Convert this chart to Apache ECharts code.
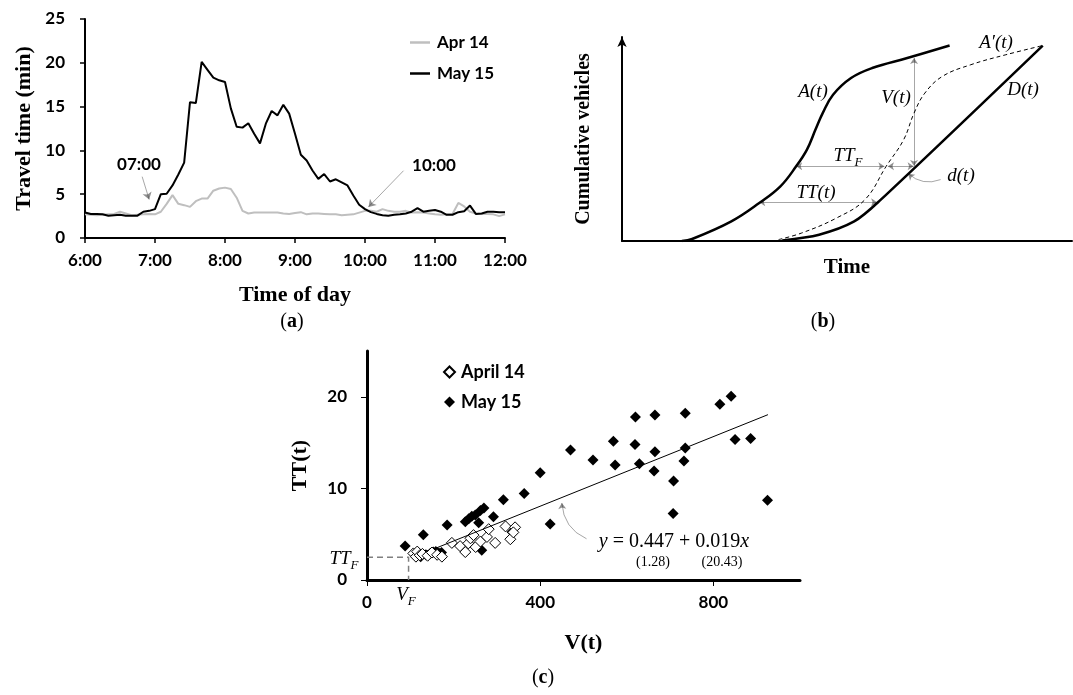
<!DOCTYPE html>
<html>
<head>
<meta charset="utf-8">
<script src="https://cdn.jsdelivr.net/npm/echarts@6/dist/echarts.min.js"></script>
<style>
html, body { margin: 0; padding: 0; background: #fff; }
#main { width: 1073px; height: 695px; }
</style>
</head>
<body>
<div id="main"></div>
<script>
// (a) travel time, 5-minute samples from 6:00 to 12:00
var apr14 = [2.7, 2.65, 2.6, 2.65, 2.7, 2.75, 3.0, 2.8, 2.6, 2.65, 2.7, 2.75,
    2.7, 3.0, 3.9, 4.9, 3.9, 3.75, 3.55, 4.2, 4.5, 4.5, 5.4, 5.65, 5.75, 5.6, 4.6, 3.1,
    2.8, 2.9, 2.9, 2.9, 2.9, 2.9, 2.8, 2.75, 2.85, 2.95, 2.7, 2.8, 2.8, 2.75, 2.7, 2.7,
    2.6, 2.65, 2.7, 2.9, 3.1, 3.1, 3.0, 3.3, 3.1, 3.0, 3.0, 3.1, 2.9, 2.95, 2.9, 2.8,
    2.7, 2.65, 2.7, 2.75, 4.0, 3.6, 3.0, 2.8, 2.75, 2.75, 2.7, 2.5, 2.7];
var may15 = [2.9, 2.75, 2.75, 2.7, 2.55, 2.6, 2.65, 2.55, 2.55, 2.55, 3.0, 3.1,
    3.3, 5.0, 5.05, 6.0, 7.25, 8.6, 15.5, 15.4, 20.1, 19.2, 18.3, 18.0, 17.8, 14.8, 12.7, 12.6,
    13.1, 11.9, 10.8, 13.05, 14.5, 14.0, 15.2, 14.2, 11.9, 9.5, 8.85, 7.7, 6.75, 7.3, 6.45, 6.7,
    6.35, 6.0, 4.85, 3.8, 3.3, 2.95, 2.75, 2.6, 2.55, 2.65, 2.7, 2.8, 3.0, 3.4, 3.0, 3.1,
    3.2, 3.0, 2.65, 2.65, 2.95, 3.05, 3.7, 2.75, 2.8, 3.0, 3.0, 2.95, 2.95];
var timeMinutes = [];
for (var m = 360; m <= 720; m += 5) timeMinutes.push(m);
// arrows: [start, end] in (minutes, value)
var arrowsA = [[[409, 7.0], [415, 4.4]], [[633, 7.68], [603, 3.55]]];

// (b) schematic curves, time 0-100, vehicles 0-100
var curveA = [[13.3, 0], [15.6, 1.0], [24.3, 9.6], [30.5, 18.6], [35.2, 26.8], [38.7, 36.6],
    [41.1, 44.8], [43.0, 54.6], [44.6, 62.7], [46.9, 71.7], [50.9, 79.9], [55.6, 84.8],
    [63.4, 89.7], [72.8, 95.8]];
var curveA2 = [[34.8, 0.7], [39.9, 3.9], [47.7, 11.3], [54.0, 20.3], [58.7, 36.6], [62.6, 49.7],
    [64.9, 62.7], [67.3, 72.5], [71.2, 80.7], [77.5, 86.4], [85.3, 91.3], [93.5, 95.8]];
var curveD = [[35.6, 0.3], [43.8, 3.1], [51.6, 9.6], [57.1, 19.4], [93.5, 95.8]];
var arrowsB = [[[38.7, 36.6], [58.3, 36.6]], [[59.1, 36.6], [64.8, 36.6]],
    [[64.9, 89.7], [64.9, 36.8]], [[30.5, 19.0], [56.7, 19.0]]];
var leaderB = [[70.8, 30.1], [63.6, 33.0]];

// (c) TT(t) vs V(t)
var april14 = [[107, 2.9], [113, 2.55], [116, 3.1], [122, 2.7], [128, 2.85], [140, 2.65],
    [150, 3.0], [162, 2.75], [173, 2.55], [196, 4.05], [215, 3.7], [227, 3.05], [234, 4.0],
    [239, 4.55], [246, 4.9], [251, 3.6], [262, 4.2], [277, 4.7], [281, 5.55], [296, 4.05],
    [320, 5.85], [331, 4.45], [342, 5.75], [338, 5.2]];
var may15c = [[88, 3.7], [112, 2.75], [118, 2.95], [124, 2.55], [130, 4.95], [136, 2.75],
    [146, 2.9], [153, 3.05], [159, 3.1], [166, 2.95], [172, 3.0], [185, 6.0], [227, 6.35],
    [235, 6.7], [242, 6.95], [250, 7.1], [258, 6.25], [262, 7.6], [270, 7.85], [265, 3.25],
    [292, 6.9], [315, 8.75], [335, 5.25], [363, 9.45], [400, 11.7], [423, 6.1], [470, 14.2],
    [522, 13.1], [569, 15.15], [573, 12.55], [620, 17.8], [619, 14.8], [629, 12.7], [665, 18.0],
    [665, 14.0], [663, 11.9], [708, 10.8], [707, 7.25], [735, 18.2], [735, 14.4], [732, 13.0],
    [815, 19.2], [841, 20.05], [850, 15.35], [886, 15.45], [925, 8.7]];
var fitLine = [[155, 3.4], [926, 18.05]];
var freeFlow = [[0, 2.47], [96, 2.47], [96, 0]];
var leaderC = [[507, 4.5], [450, 8.4]];
var ticksCx = [0, 400, 800];
var ticksCy = [0, 10, 20];

var SANS = 'Lato, "Open Sans", sans-serif';
var SERIF = '"Liberation Serif", "Times New Roman", serif';

var zip = function (xs, ys) {
    return ys.map(function (v, i) { return [xs[i], v]; });
};
var axisTitle = function (size) {
    return { fontFamily: SERIF, fontWeight: 'bold', fontSize: size, color: '#000' };
};
var tickLabel = function (size, margin) {
    return { fontFamily: SANS, fontWeight: 'bold', fontSize: size, color: '#000', margin: margin };
};
var blackLine = function (w) {
    return { show: true, onZero: false, lineStyle: { color: '#000', width: w } };
};
var text = function (x, y, str, font, rich) {
    var t = { type: 'text', x: x, y: y, z: 100,
        style: { text: str, font: font, fill: '#000', align: 'center', verticalAlign: 'middle' } };
    if (rich) t.style.rich = rich;
    return t;
};
var mathRich = {
    i: { font: 'italic 19px ' + SERIF, lineHeight: 26, verticalAlign: 'middle' },
    s: { font: 'italic 13px ' + SERIF, lineHeight: 12, verticalAlign: 'bottom' }
};
var panelRich = {
    p: { font: '20px ' + SERIF },
    b: { font: 'bold 20px ' + SERIF }
};

var chart = echarts.init(document.getElementById('main'));
var option = {
    animation: false,
    backgroundColor: '#fff',
    grid: [
        { left: 85, top: 19, width: 420, height: 219 },
        { left: 622, top: 37, width: 450, height: 204 },
        { left: 367, top: 351, width: 433, height: 229 }
    ],
    xAxis: [
        { type: 'value', gridIndex: 0, min: 360, max: 720, interval: 60,
          axisLine: blackLine(2),
          axisTick: { show: true, length: 5, lineStyle: { color: '#000', width: 1.5 } },
          axisLabel: Object.assign(tickLabel(17, 14), {
              formatter: function (v) { return Math.floor(v / 60) + ':00'; } }),
          splitLine: { show: false },
          name: 'Time of day', nameLocation: 'middle', nameGap: 46, nameTextStyle: axisTitle(22) },
        { type: 'value', gridIndex: 1, min: 0, max: 100,
          axisLine: blackLine(2), axisTick: { show: false }, axisLabel: { show: false },
          splitLine: { show: false },
          name: 'Time', nameLocation: 'middle', nameGap: 16, nameTextStyle: axisTitle(21) },
        { type: 'value', gridIndex: 2, min: 0, max: 1000,
          axisLine: blackLine(3),
          axisTick: { show: true, length: 6, customValues: ticksCx, lineStyle: { color: '#000', width: 1 } },
          axisLabel: Object.assign(tickLabel(17, 14), { customValues: ticksCx }),
          splitLine: { show: false },
          name: 'V(t)', nameLocation: 'middle', nameGap: 52, nameTextStyle: axisTitle(22) }
    ],
    yAxis: [
        { type: 'value', gridIndex: 0, min: 0, max: 25, interval: 5,
          axisLine: blackLine(2),
          axisTick: { show: true, length: 5, lineStyle: { color: '#000', width: 1.5 } },
          axisLabel: tickLabel(17, 20),
          splitLine: { show: false },
          name: 'Travel time (min)', nameLocation: 'middle', nameGap: 50, nameTextStyle: axisTitle(22) },
        { type: 'value', gridIndex: 1, min: 0, max: 100,
          axisLine: { show: true, onZero: false, symbol: ['none', 'arrow'], symbolSize: [7, 10],
                      lineStyle: { color: '#000', width: 2 } },
          axisTick: { show: false }, axisLabel: { show: false }, splitLine: { show: false },
          name: 'Cumulative vehicles', nameLocation: 'middle', nameGap: 28, nameTextStyle: axisTitle(20) },
        { type: 'value', gridIndex: 2, min: 0, max: 25,
          axisLine: blackLine(3),
          axisTick: { show: true, length: 6, customValues: ticksCy, lineStyle: { color: '#000', width: 1 } },
          axisLabel: Object.assign(tickLabel(17, 20), { customValues: ticksCy }),
          splitLine: { show: false },
          name: 'TT(t)', nameLocation: 'middle', nameGap: 56, nameTextStyle: axisTitle(22) }
    ],
    legend: [
        { data: [{ name: 'Apr 14', icon: 'rect' }, { name: 'May 15', icon: 'rect' }],
          orient: 'vertical', left: 405, top: 29,
          itemWidth: 20, itemHeight: 2.5, itemGap: 14, selectedMode: false,
          textStyle: { fontFamily: SANS, fontWeight: 'bold', fontSize: 17, color: '#000',
                       padding: [0, 0, 0, 2], lineHeight: 17 } },
        { data: [{ name: 'April 14', icon: 'diamond' }, { name: 'May 15 (c)', icon: 'diamond' }],
          orient: 'vertical', left: 438, top: 358,
          itemWidth: 11, itemHeight: 11, itemGap: 12, selectedMode: false,
          formatter: function (n) { return n.replace(' (c)', ''); },
          textStyle: { fontFamily: SANS, fontWeight: 'bold', fontSize: 18, color: '#000', padding: [0, 0, 0, 1] } }
    ],
    series: [
        { name: 'Apr 14', type: 'line', xAxisIndex: 0, yAxisIndex: 0, data: zip(timeMinutes, apr14),
          symbol: 'none', z: 2, lineStyle: { color: '#bfbfbf', width: 2 }, itemStyle: { color: '#bfbfbf' } },
        { name: 'May 15', type: 'line', xAxisIndex: 0, yAxisIndex: 0, data: zip(timeMinutes, may15),
          symbol: 'none', z: 3, lineStyle: { color: '#000', width: 2 }, itemStyle: { color: '#000' } },
        { type: 'lines', coordinateSystem: 'cartesian2d', xAxisIndex: 0, yAxisIndex: 0,
          symbol: ['none', 'arrow'], symbolSize: 7, z: 4,
          lineStyle: { color: '#222', width: 0.8, curveness: 0 },
          data: arrowsA.map(function (c) { return { coords: c }; }) },

        { type: 'line', xAxisIndex: 1, yAxisIndex: 1, data: curveA, smooth: 0.4, symbol: 'none',
          lineStyle: { color: '#000', width: 2.5 } },
        { type: 'line', xAxisIndex: 1, yAxisIndex: 1, data: curveA2, smooth: 0.4, symbol: 'none',
          lineStyle: { color: '#000', width: 1, type: [4, 3] } },
        { type: 'line', xAxisIndex: 1, yAxisIndex: 1, data: curveD, smooth: 0.3,
          symbol: 'none', lineStyle: { color: '#000', width: 2.5 } },
        { type: 'lines', coordinateSystem: 'cartesian2d', xAxisIndex: 1, yAxisIndex: 1,
          symbol: ['arrow', 'arrow'], symbolSize: 6,
          lineStyle: { color: '#222', width: 0.8, curveness: 0 },
          data: arrowsB.map(function (c) { return { coords: c }; }) },
        { type: 'lines', coordinateSystem: 'cartesian2d', xAxisIndex: 1, yAxisIndex: 1,
          symbol: ['none', 'arrow'], symbolSize: 6,
          lineStyle: { color: '#222', width: 0.8, curveness: 0.3 },
          data: [{ coords: leaderB }] },

        { type: 'line', xAxisIndex: 2, yAxisIndex: 2, data: freeFlow, symbol: 'none',
          lineStyle: { color: '#7f7f7f', width: 1.5, type: [6, 4] } },
        { type: 'line', xAxisIndex: 2, yAxisIndex: 2, data: fitLine, symbol: 'none', z: 5,
          lineStyle: { color: '#000', width: 1 } },
        { name: 'May 15 (c)', type: 'scatter', xAxisIndex: 2, yAxisIndex: 2, data: may15c,
          symbol: 'diamond', symbolSize: 11, z: 3, itemStyle: { color: '#000', opacity: 1 } },
        { name: 'April 14', type: 'scatter', xAxisIndex: 2, yAxisIndex: 2, data: april14,
          symbol: 'diamond', symbolSize: 11, z: 4,
          itemStyle: { color: '#fff', borderColor: '#000', borderWidth: 1, opacity: 1 } },
        { type: 'lines', coordinateSystem: 'cartesian2d', xAxisIndex: 2, yAxisIndex: 2,
          symbol: ['none', 'arrow'], symbolSize: 6,
          lineStyle: { color: '#222', width: 0.8, curveness: 0.3 },
          data: [{ coords: leaderC }] }
    ],
    graphic: [
        text(139, 165, '07:00', 'bold 17px ' + SANS),
        text(434, 166, '10:00', 'bold 17px ' + SANS),
        text(292, 322, '{p|(}{b|a}{p|)}', '20px ' + SERIF, panelRich),

        text(813, 92, 'A(t)', 'italic 19px ' + SERIF),
        text(896, 98, 'V(t)', 'italic 19px ' + SERIF),
        text(996, 43, 'A\u2032(t)', 'italic 19px ' + SERIF),
        text(1023, 90, 'D(t)', 'italic 19px ' + SERIF),
        text(848, 156, '{i|TT}{s|F}', 'italic 19px ' + SERIF, mathRich),
        text(816, 193, 'TT(t)', 'italic 19px ' + SERIF),
        text(961, 176, 'd(t)', 'italic 19px ' + SERIF),
        text(823, 322, '{p|(}{b|b}{p|)}', '20px ' + SERIF, panelRich),

        text(674, 542, '{i|y}{n| = 0.447 + 0.019}{i|x}', '20px ' + SERIF, {
            i: { font: 'italic 20px ' + SERIF },
            n: { font: '20px ' + SERIF } }),
        text(653, 562, '(1.28)', '14px ' + SERIF),
        text(722, 562, '(20.43)', '14px ' + SERIF),
        text(344, 559, '{i|TT}{s|F}', 'italic 19px ' + SERIF, mathRich),
        text(406, 595, '{i|V}{s|F}', 'italic 19px ' + SERIF, mathRich),
        text(543, 678, '{p|(}{b|c}{p|)}', '20px ' + SERIF, panelRich)
    ]
};
chart.setOption(option);
</script>
</body>
</html>
